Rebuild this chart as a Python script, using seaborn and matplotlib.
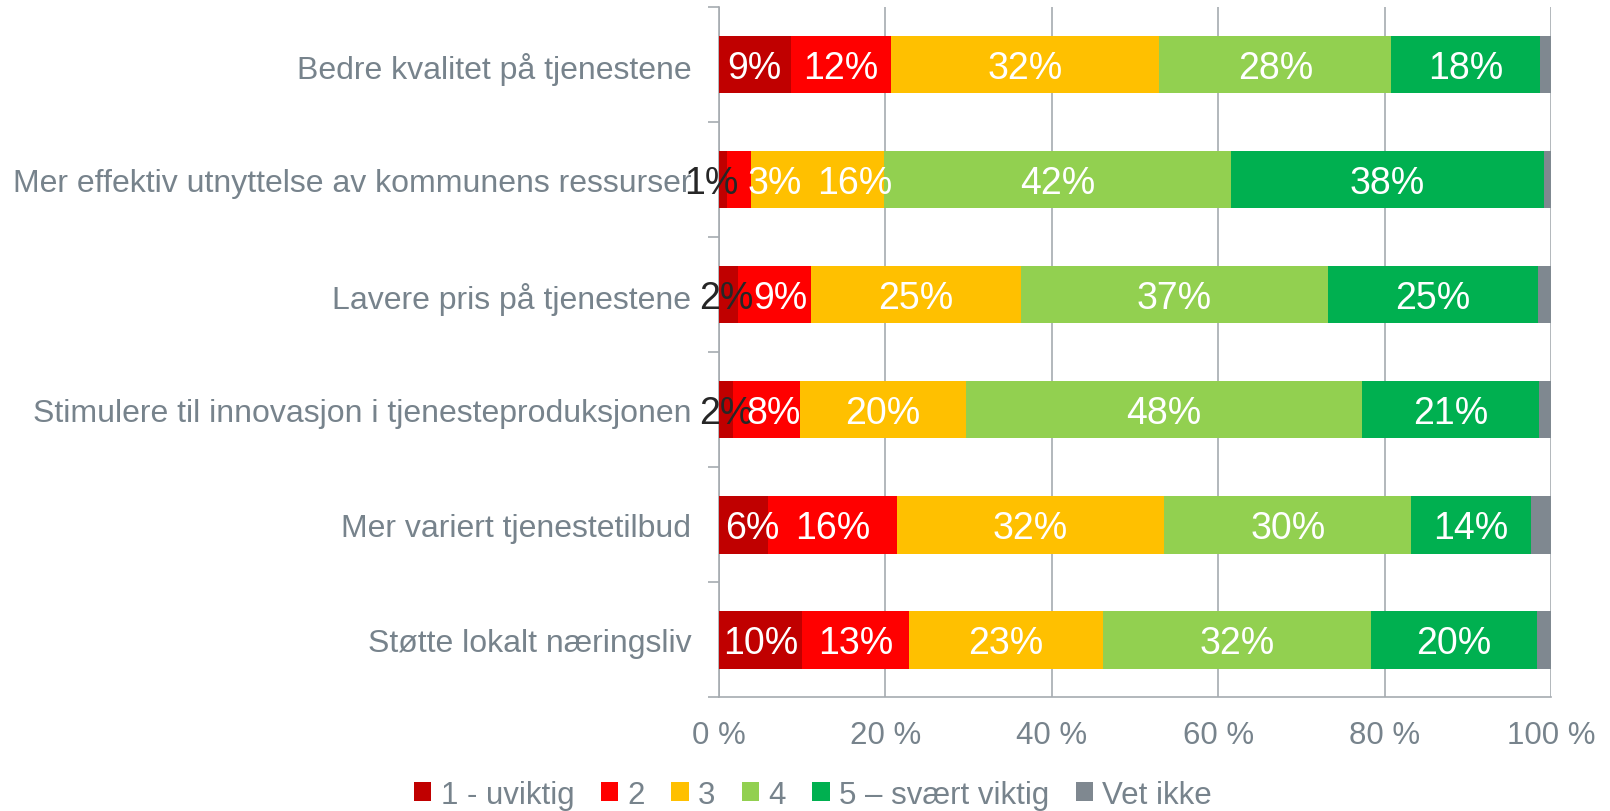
import numpy as np
import pandas as pd
import matplotlib.pyplot as plt
import seaborn as sns
from matplotlib.patches import Patch
from matplotlib.ticker import FixedLocator, PercentFormatter

# Data (share of answers, %)
categories = [
    'Bedre kvalitet på tjenestene',
    'Mer effektiv utnyttelse av kommunens ressurser',
    'Lavere pris på tjenestene',
    'Stimulere til innovasjon i tjenesteproduksjonen',
    'Mer variert tjenestetilbud',
    'Støtte lokalt næringsliv',
]
levels = ['1 - uviktig', '2', '3', '4', '5 – svært viktig', 'Vet ikke']
s1 = [8.6, 0.9, 2.3, 1.7, 5.9, 10.0]
s2 = [12.1, 3.0, 8.8, 8.0, 15.5, 12.8]
s3 = [32.2, 15.9, 25.2, 20.0, 32.1, 23.4]
s4 = [27.9, 41.7, 36.9, 47.6, 29.7, 32.1]
s5 = [17.9, 37.6, 25.2, 21.3, 14.4, 20.0]
s6 = [1.3, 0.9, 1.6, 1.4, 2.4, 1.7]
colors = ['#C00000', '#FF0000', '#FFC000', '#92D050', '#00B050', '#7F8890']

# label nudges (in % units) where Excel moved overlapping labels
nudge = {(1, 0): -1.4, (1, 1): 4.3, (1, 2): 4.5,
         (2, 0): -0.3, (2, 1): 0.7, (3, 1): 0.8, (4, 0): 1.1}

series = [s1, s2, s3, s4, s5, s6]
df = pd.DataFrame(np.array(series).T, columns=levels)
df['Kategori'] = categories
cum = df[levels].cumsum(axis=1)

sns.set_theme(style='white')
plt.rcParams['font.family'] = ['Liberation Sans', 'DejaVu Sans']
textgray = '#77838C'
gridgray = '#A6ABB0'

fig = plt.figure(figsize=(16.1, 8.12), dpi=100)
ax = fig.add_axes([0.4466, 0.140, 0.5168, 0.850])

# stacked bars: draw cumulative totals from the back to the front
for lvl, col in reversed(list(zip(levels, colors))):
    sns.barplot(x=cum[lvl], y=df['Kategori'], color=col, width=0.5,
                linewidth=0, saturation=1, orient='h', ax=ax, zorder=3)

# value labels
for i in range(len(categories)):
    left = 0
    for j, lvl in enumerate(levels):
        v = df.loc[i, lvl]
        if j < 5:
            xc = left + v / 2 + nudge.get((i, j), 0)
            tc = '#262626' if v < 2.5 else 'white'
            ax.text(xc, i + 0.025, f'{v:.0f}%', ha='center', va='center',
                    fontsize=27, color=tc, zorder=5)
        left += v

ax.set_xlim(0, 100)
ax.set_ylim(5.5, -0.5)
ax.set_xlabel('')
ax.set_ylabel('')
ax.xaxis.set_major_locator(FixedLocator([0, 20, 40, 60, 80, 100]))
ax.xaxis.set_major_formatter(PercentFormatter(decimals=0, symbol=' %'))
ax.grid(axis='x', color=gridgray, linewidth=1.2, zorder=0)
ax.set_axisbelow(True)
ax.yaxis.set_minor_locator(FixedLocator(np.arange(-0.5, 6, 1)))
ax.tick_params(axis='y', which='major', length=0, pad=20,
               labelsize=23, labelcolor=textgray)
ax.tick_params(axis='y', which='minor', length=8, width=1.2,
               color=gridgray, left=True)
ax.tick_params(axis='x', length=0, pad=16, labelsize=22.5, labelcolor=textgray)

for side in ['top', 'right']:
    ax.spines[side].set_visible(False)
for side in ['left', 'bottom']:
    ax.spines[side].set_color(gridgray)
    ax.spines[side].set_linewidth(1.2)

handles = [Patch(facecolor=c, edgecolor='none', label=l) for l, c in zip(levels, colors)]
fig.legend(handles=handles, loc='center', bbox_to_anchor=(0.505, 0.020), ncol=6,
           frameon=False, fontsize=22.5, labelcolor=textgray, handlelength=0.55,
           handleheight=0.55, handletextpad=0.3, columnspacing=0.85)

fig.savefig('out.png', dpi=100)
